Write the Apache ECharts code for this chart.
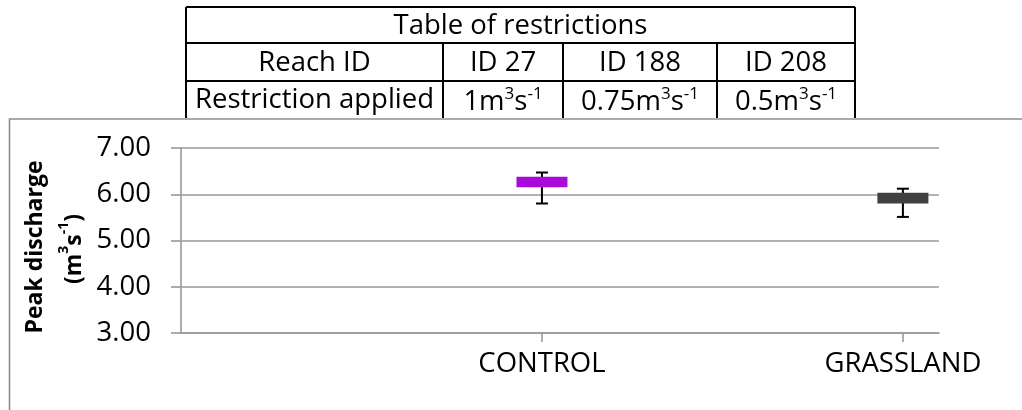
<!DOCTYPE html>
<html>
<head>
<meta charset="utf-8">
<script src="https://cdn.jsdelivr.net/npm/echarts@6/dist/echarts.min.js"></script>
<style>
  html, body { margin: 0; padding: 0; background: #fff; }
  #chart { width: 1022px; height: 410px; }
</style>
</head>
<body>
<div id="chart"></div>
<script>
// Peak discharge range per land-use scenario
const categories = ['CONTROL', 'GRASSLAND'];
const boxLow = [6.15, 5.80];
const boxHigh = [6.38, 6.03];
const whiskerLow = [5.80, 5.51];
const whiskerHigh = [6.47, 6.12];
const barColors = ['#A90AD9', '#404040'];
const yTicks = [3, 4, 5, 6, 7];

// Restriction table contents
const tableTitle = 'Table of restrictions';
const reachRow = ['Reach ID', 'ID 27', 'ID 188', 'ID 208'];
const restrictionLabel = 'Restriction applied';
const restrictionValues = ['1', '0.75', '0.5'];

const FONT = '"Open Sans", "Noto Sans", sans-serif';
const FS = 27.5;

// table geometry
const colEdges = [186, 443, 563, 717, 855];
const rowEdges = [7, 43, 81, 118];
const unitRich = {
  t: { fontFamily: FONT, fontSize: FS, fill: '#000', lineHeight: 32, verticalAlign: 'bottom' },
  s: { fontFamily: FONT, fontSize: 17, fill: '#000', lineHeight: 32, verticalAlign: 'top', padding: [1, 0, 0, 0] }
};
function unitText(v) { return '{t|' + v + 'm}{s|3}{t|s}{s|-1}'; }

const graphics = [];
// outer chart border (open at right and bottom)
graphics.push({
  type: 'rect', z: 1,
  shape: { x: 9.5, y: 119, width: 1100, height: 400 },
  style: { fill: 'none', stroke: '#8e8e8e', lineWidth: 1.6 }
});
// table frame
const tl = { stroke: '#000', lineWidth: 2 };
graphics.push({ type: 'rect', z: 5, shape: { x: colEdges[0], y: rowEdges[0], width: colEdges[4] - colEdges[0], height: rowEdges[3] - rowEdges[0] }, style: { fill: '#fff', stroke: null } });
graphics.push({ type: 'line', z: 6, shape: { x1: colEdges[0], y1: rowEdges[0], x2: colEdges[4], y2: rowEdges[0] }, style: tl });
graphics.push({ type: 'line', z: 6, shape: { x1: colEdges[0], y1: rowEdges[1], x2: colEdges[4], y2: rowEdges[1] }, style: tl });
graphics.push({ type: 'line', z: 6, shape: { x1: colEdges[0], y1: rowEdges[2], x2: colEdges[4], y2: rowEdges[2] }, style: tl });
graphics.push({ type: 'line', z: 6, shape: { x1: colEdges[0], y1: rowEdges[0], x2: colEdges[0], y2: rowEdges[3] }, style: tl });
graphics.push({ type: 'line', z: 6, shape: { x1: colEdges[4], y1: rowEdges[0], x2: colEdges[4], y2: rowEdges[3] }, style: tl });
for (let c = 1; c < 4; c++) {
  graphics.push({ type: 'line', z: 6, shape: { x1: colEdges[c], y1: rowEdges[1], x2: colEdges[c], y2: rowEdges[3] }, style: tl });
}
const cellText = (x, y, text, rich) => ({
  type: 'text', z: 7, x: x, y: y,
  style: Object.assign({
    text: text, fontFamily: FONT, fontSize: FS, fill: '#000',
    align: 'center', verticalAlign: 'middle'
  }, rich ? { rich: rich } : {})
});
graphics.push(cellText((colEdges[0] + colEdges[4]) / 2, (rowEdges[0] + rowEdges[1]) / 2 + 1, tableTitle));
reachRow.forEach((t, i) => {
  graphics.push(cellText((colEdges[i] + colEdges[i + 1]) / 2, (rowEdges[1] + rowEdges[2]) / 2 + 1, t));
});
graphics.push(cellText((colEdges[0] + colEdges[1]) / 2, (rowEdges[2] + rowEdges[3]) / 2 + 1, restrictionLabel));
restrictionValues.forEach((v, i) => {
  graphics.push(cellText((colEdges[i + 1] + colEdges[i + 2]) / 2, (rowEdges[2] + rowEdges[3]) / 2 + 1, unitText(v), unitRich));
});
// y-axis title, two rotated lines
graphics.push({
  type: 'text', z: 7, x: 35, y: 247, rotation: Math.PI / 2,
  style: {
    text: 'Peak discharge', fontFamily: FONT, fontWeight: 'bold', fontSize: 23, fill: '#000',
    align: 'center', verticalAlign: 'middle'
  }
});
graphics.push({
  type: 'text', z: 7, x: 71, y: 249, rotation: Math.PI / 2,
  style: {
    text: '{b|(m}{bs|3}{b|s}{bs|-1}{b|)}',
    align: 'center', verticalAlign: 'middle',
    rich: {
      b: { fontFamily: FONT, fontWeight: 'bold', fontSize: 23, fill: '#000', lineHeight: 30, verticalAlign: 'bottom' },
      bs: { fontFamily: FONT, fontWeight: 'bold', fontSize: 14, fill: '#000', lineHeight: 30, verticalAlign: 'top', padding: [1, 0, 0, 0] }
    }
  }
});

const seriesData = categories.map((c, i) => [i + 1, boxLow[i], boxHigh[i], whiskerLow[i], whiskerHigh[i]]);

function renderItem(params, api) {
  const i = params.dataIndex;
  const xv = api.value(0);
  const lo = api.coord([xv, api.value(1)]);
  const hi = api.coord([xv, api.value(2)]);
  const wLo = api.coord([xv, api.value(3)]);
  const wHi = api.coord([xv, api.value(4)]);
  const cx = lo[0];
  const half = 25.5, cap = 6;
  const ls = { stroke: '#000', lineWidth: 2 };
  return {
    type: 'group',
    children: [
      { type: 'line', shape: { x1: cx, y1: wLo[1], x2: cx, y2: wHi[1] }, style: ls },
      { type: 'line', shape: { x1: cx - cap, y1: wLo[1], x2: cx + cap, y2: wLo[1] }, style: ls },
      { type: 'line', shape: { x1: cx - cap, y1: wHi[1], x2: cx + cap, y2: wHi[1] }, style: ls },
      { type: 'rect', shape: { x: cx - half, y: hi[1], width: half * 2, height: lo[1] - hi[1] }, style: { fill: barColors[i] } }
    ]
  };
}

const chart = echarts.init(document.getElementById('chart'), null, { renderer: 'canvas' });
chart.setOption({
  animation: false,
  backgroundColor: '#fff',
  grid: { left: 181, right: 83, top: 148, bottom: 77, containLabel: false },
  xAxis: {
    type: 'value', min: 0, max: 2.1, interval: 1,
    splitLine: { show: false },
    axisLine: { show: true, lineStyle: { color: '#999', width: 1.6 } },
    axisTick: { show: true, customValues: [1, 2], length: 9, lineStyle: { color: '#999', width: 1.6 } },
    axisLabel: {
      customValues: [1, 2],
      formatter: v => categories[Math.round(v) - 1] || '',
      fontFamily: FONT, fontSize: FS, color: '#000', margin: 17
    }
  },
  yAxis: {
    type: 'value', min: yTicks[0], max: yTicks[yTicks.length - 1], interval: 1,
    axisLine: { show: true, lineStyle: { color: '#999', width: 1.6 } },
    axisTick: { show: true, length: 10, lineStyle: { color: '#999', width: 1.6 } },
    splitLine: { show: true, lineStyle: { color: '#999', width: 1.6 } },
    axisLabel: {
      formatter: v => v.toFixed(2),
      fontFamily: FONT, fontSize: FS, color: '#000', margin: 30
    }
  },
  graphic: graphics,
  series: [{
    type: 'custom',
    renderItem: renderItem,
    encode: { x: 0, y: [1, 2, 3, 4] },
    data: seriesData,
    z: 10
  }]
});
</script>
</body>
</html>
